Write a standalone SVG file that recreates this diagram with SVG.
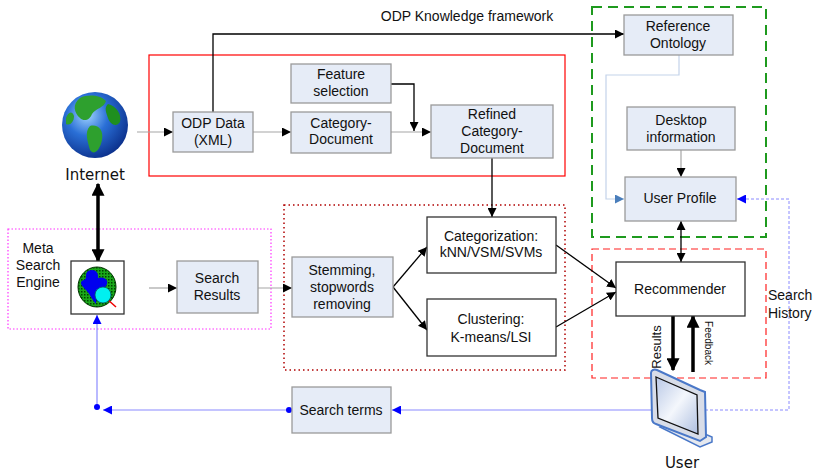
<svg xmlns="http://www.w3.org/2000/svg" width="814" height="472" viewBox="0 0 814 472">
<defs>
  <style>
    text { font-family: "Liberation Sans", Arial, sans-serif; font-size: 14px; fill: #111; text-anchor: middle; }
    .big { font-family: "DejaVu Sans", Verdana, sans-serif; font-size: 15px; }
    .box { fill: #e6ecf7; stroke: #9a9a9a; stroke-width: 1.3; }
    .wbox { fill: #ffffff; stroke: #333; stroke-width: 1.3; }
    .ln { fill: none; stroke: #000; stroke-width: 1.3; }
    .gl { fill: none; stroke: #a6a6a6; stroke-width: 1.2; }
    .thick { fill: none; stroke: #000; stroke-width: 3.5; }
  </style>
  <marker id="ah" viewBox="0 0 10 10" refX="10" refY="5" markerWidth="9" markerHeight="9" markerUnits="userSpaceOnUse" orient="auto-start-reverse">
    <path d="M0,0 L10,5 L0,10 z" fill="#000"/>
  </marker>
  <marker id="ahb" viewBox="0 0 10 10" refX="9" refY="5" markerWidth="13" markerHeight="13" markerUnits="userSpaceOnUse" orient="auto-start-reverse">
    <path d="M0,0 L10,5 L0,10 z" fill="#000"/>
  </marker>
  <marker id="ahl" viewBox="0 0 10 10" refX="10" refY="5" markerWidth="9" markerHeight="9" markerUnits="userSpaceOnUse" orient="auto">
    <path d="M0,0 L10,5 L0,10 z" fill="#4a7ebb"/>
  </marker>
  <marker id="ahblue" viewBox="0 0 10 10" refX="10" refY="5" markerWidth="9" markerHeight="9" markerUnits="userSpaceOnUse" orient="auto">
    <path d="M0,0 L10,5 L0,10 z" fill="#0000ff"/>
  </marker>
  <marker id="dotb" viewBox="0 0 10 10" refX="5" refY="5" markerWidth="6" markerHeight="6" markerUnits="userSpaceOnUse">
    <circle cx="5" cy="5" r="5" fill="#0000ff"/>
  </marker>
  <radialGradient id="globe" cx="0.38" cy="0.35" r="0.7">
    <stop offset="0" stop-color="#9fd3ff"/>
    <stop offset="0.45" stop-color="#2a6fd6"/>
    <stop offset="1" stop-color="#0b2f8a"/>
  </radialGradient>
  <linearGradient id="scr" x1="0" y1="0" x2="1" y2="1">
    <stop offset="0" stop-color="#b9c8e6"/>
    <stop offset="0.5" stop-color="#f4f7fc"/>
    <stop offset="1" stop-color="#aebfe0"/>
  </linearGradient>
  <pattern id="hatch" width="3" height="3" patternUnits="userSpaceOnUse">
    <rect width="3" height="3" fill="#1aa81a"/>
    <rect width="1.5" height="1.5" fill="#004400"/>
  </pattern>
</defs>

<!-- group frames -->
<g id="frames">
  <rect x="149" y="55" width="416" height="121" fill="none" stroke="#ff0000" stroke-width="1.2"/>
  <rect x="592" y="7" width="174" height="230" fill="none" stroke="#1e9a1e" stroke-width="2" stroke-dasharray="10,6"/>
  <rect x="592" y="249" width="174" height="129" fill="none" stroke="#ff2020" stroke-width="1.2" stroke-dasharray="7,4"/>
  <rect x="284" y="205" width="281" height="165" fill="none" stroke="#b00000" stroke-width="1.5" stroke-dasharray="1.5,3"/>
  <rect x="8" y="229" width="263" height="100" fill="none" stroke="#ff33ff" stroke-width="1.2" stroke-dasharray="1.5,2"/>
</g>

<!-- connectors -->
<g id="connectors">
  <!-- ODP framework line to the ontology -->
  <polyline class="ln" points="213,112 213,34 624,34" marker-end="url(#ah)"/>
  <line x1="137" y1="132" x2="173" y2="132" class="gl" marker-end="url(#ah)"/>
  <line x1="253" y1="132" x2="291" y2="132" class="gl" marker-end="url(#ah)"/>
  <line x1="391" y1="132" x2="431" y2="132" class="gl" marker-end="url(#ah)"/>
  <polyline class="ln" points="391,84 414,84 414,131" marker-end="url(#ah)"/>
  <line x1="492" y1="158" x2="492" y2="217" class="ln" stroke-width="2" marker-end="url(#ah)"/>
  <!-- internet <-> meta search -->
  <line x1="98" y1="184" x2="98" y2="261" class="thick" marker-start="url(#ahb)" marker-end="url(#ahb)"/>
  <line x1="149" y1="288" x2="177" y2="288" class="gl" marker-end="url(#ah)"/>
  <line x1="258" y1="288" x2="292" y2="288" class="gl" marker-end="url(#ah)"/>
  <line x1="393" y1="287" x2="427" y2="247" class="ln" marker-end="url(#ah)"/>
  <line x1="393" y1="287" x2="427" y2="330" class="ln" marker-end="url(#ah)"/>
  <line x1="556" y1="245" x2="616" y2="288" class="ln" marker-end="url(#ah)"/>
  <line x1="556" y1="327" x2="616" y2="292" class="ln" marker-end="url(#ah)"/>
  <!-- profile side -->
  <polyline fill="none" stroke="#c3d3ea" stroke-width="1.2" points="679,55 679,75 606,75 606,199 624,199" marker-end="url(#ahl)"/>
  <line x1="681" y1="150" x2="681" y2="177" class="gl" marker-end="url(#ah)"/>
  <line x1="681" y1="221" x2="681" y2="262" class="ln" marker-start="url(#ah)" marker-end="url(#ah)"/>
  <line x1="673" y1="316" x2="673" y2="370" class="thick" marker-end="url(#ahb)"/>
  <line x1="693" y1="372" x2="693" y2="316" class="thick" marker-end="url(#ahb)"/>
  <!-- search history feedback -->
  <polyline fill="none" stroke="#8a8aff" stroke-width="1" stroke-dasharray="3,2" points="705,410 789,410 789,199 737,199" marker-end="url(#ahblue)"/>
  <line x1="652" y1="410" x2="392" y2="410" stroke="#8a8aff" stroke-width="1.2" marker-end="url(#ahblue)"/>
  <line x1="289" y1="410" x2="103" y2="410" stroke="#8a8aff" stroke-width="1.2" marker-start="url(#dotb)" marker-end="url(#ahblue)"/>
  <polyline fill="none" stroke="#8a8aff" stroke-width="1.2" points="97,407 97,315" marker-end="url(#ahblue)"/>
  <circle cx="97" cy="407" r="3" fill="#0000ff"/>
</g>

<text x="467" y="21">ODP Knowledge framework</text>

<!-- internet globe -->
<g id="internet">
  <circle cx="95" cy="125" r="33" fill="url(#globe)"/>
  <path d="M80,98 C88,94 100,95 106,101 C104,108 96,108 92,114 C90,120 84,122 80,118 C74,113 72,104 80,98 Z" fill="#2ea02e"/>
  <path d="M108,104 C116,106 122,114 120,122 C116,128 110,124 108,118 C106,112 104,108 108,104 Z" fill="#1f8f1f"/>
  <path d="M90,126 C98,124 104,130 102,140 C100,150 94,156 90,150 C88,142 84,132 90,126 Z" fill="#2ea02e"/>
  <path d="M66,118 C68,112 72,110 74,116 C74,122 70,126 66,124 Z" fill="#2ea02e"/>
  <text class="big" x="95" y="180">Internet</text>
</g>

<g id="odp-data">
  <rect class="box" x="173" y="112" width="80" height="40"/>
  <text x="213" y="128">ODP Data</text>
  <text x="213" y="145">(XML)</text>
</g>
<g id="feature-selection">
  <rect class="box" x="291" y="64" width="100" height="39"/>
  <text x="341" y="79">Feature</text>
  <text x="341" y="96">selection</text>
</g>
<g id="category-document">
  <rect class="box" x="291" y="112" width="100" height="41"/>
  <text x="341" y="128">Category-</text>
  <text x="341" y="144">Document</text>
</g>
<g id="refined-category-document">
  <rect class="box" x="431" y="105" width="122" height="53"/>
  <text x="492" y="119">Refined</text>
  <text x="492" y="136">Category-</text>
  <text x="492" y="153">Document</text>
</g>
<g id="reference-ontology">
  <rect class="box" x="624" y="15" width="109" height="40"/>
  <text x="678" y="31">Reference</text>
  <text x="678" y="48">Ontology</text>
</g>
<g id="desktop-information">
  <rect class="box" x="627" y="107" width="108" height="43"/>
  <text x="681" y="125">Desktop</text>
  <text x="681" y="142">information</text>
</g>
<g id="user-profile">
  <rect class="box" x="625" y="177" width="111" height="44"/>
  <text x="680" y="203">User Profile</text>
</g>

<g id="meta-search-engine">
  <text x="38" y="253">Meta</text>
  <text x="38" y="270">Search</text>
  <text x="38" y="287">Engine</text>
  <rect x="71" y="261" width="53" height="53" fill="#fff" stroke="#333" stroke-width="1.3"/>
  <ellipse cx="97" cy="287" rx="19" ry="20" fill="url(#hatch)" stroke="#003300" stroke-width="1"/>
  <path d="M88,271 C94,268 99,272 98,278 C104,276 110,280 106,286 C100,292 96,296 96,304 C92,300 90,294 86,290 C82,286 78,282 84,280 C88,278 84,274 88,271 Z" fill="#0000ee"/>
  <line x1="107" y1="299" x2="116" y2="307" stroke="#ee0000" stroke-width="1.5"/>
  <circle cx="103" cy="295" r="8" fill="#00f0f0" stroke="#006060" stroke-width="0.8"/>
</g>
<g id="search-results">
  <rect class="box" x="177" y="261" width="81" height="52"/>
  <text x="217" y="283">Search</text>
  <text x="217" y="300">Results</text>
</g>
<g id="stemming">
  <rect class="box" x="292" y="257" width="101" height="60"/>
  <text x="342" y="275">Stemming,</text>
  <text x="342" y="292">stopwords</text>
  <text x="342" y="309">removing</text>
</g>
<g id="categorization">
  <rect class="wbox" x="427" y="217" width="129" height="56"/>
  <text x="491" y="241">Categorization:</text>
  <text x="491" y="257">kNN/VSM/SVMs</text>
</g>
<g id="clustering">
  <rect class="wbox" x="427" y="299" width="129" height="57"/>
  <text x="491" y="324">Clustering:</text>
  <text x="491" y="342">K-means/LSI</text>
</g>
<g id="recommender">
  <rect class="wbox" x="616" y="262" width="129" height="54"/>
  <text x="680" y="294">Recommender</text>
  <text x="768" y="300" style="text-anchor:start">Search</text>
  <text x="768" y="318" style="text-anchor:start">History</text>
  <text transform="translate(661,347) rotate(-90)" style="font-size:13px">Results</text>
  <text transform="translate(705,343) rotate(90)" style="font-size:10px">Feedback</text>
</g>
<g id="search-terms">
  <rect class="box" x="292" y="387" width="99" height="46"/>
  <text x="341" y="415">Search terms</text>
</g>

<!-- user workstation -->
<g id="user">
  <path d="M660,427 L700,447 L712,442 L712,437 L672,420 Z" fill="#e6e9ef" stroke="#4a78c8" stroke-width="1.5"/>
  <path d="M676,420 L690,427 L690,436 L676,430 Z" fill="#cfd6e2" stroke="#4a78c8" stroke-width="1"/>
  <path d="M651,373 C651,370 654,369 657,370 L700,390 L705,392 L706,437 L700,441 L656,424 C652,423 652,420 652,418 Z" fill="#d8dde8" stroke="#4a78c8" stroke-width="2"/>
  <path d="M656,377 L697,395 L698,434 L658,418 Z" fill="url(#scr)" stroke="#111" stroke-width="1.3"/>
  <text class="big" x="682" y="468">User</text>
</g>
</svg>
